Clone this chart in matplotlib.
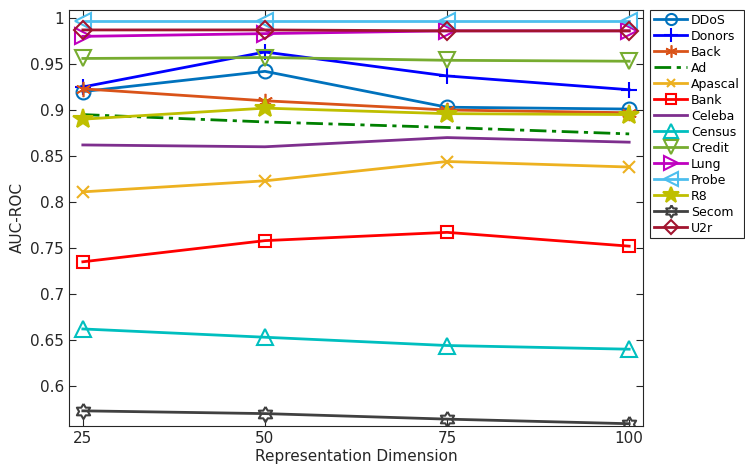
import numpy as np
import matplotlib
matplotlib.use("Agg")
import matplotlib.pyplot as plt

dims = [25, 50, 75, 100]

names = ["DDoS", "Donors", "Back", "Ad", "Apascal", "Bank", "Celeba", "Census",
         "Credit", "Lung", "Probe", "R8", "Secom", "U2r"]

ddos = [0.920, 0.942, 0.903, 0.901]
donors = [0.925, 0.963, 0.937, 0.922]
back = [0.923, 0.910, 0.900, 0.897]
ad = [0.895, 0.887, 0.881, 0.874]
apascal = [0.811, 0.823, 0.844, 0.838]
bank = [0.735, 0.758, 0.767, 0.752]
celeba = [0.862, 0.860, 0.870, 0.865]
census = [0.662, 0.653, 0.644, 0.640]
credit = [0.956, 0.957, 0.954, 0.953]
lung = [0.980, 0.983, 0.986, 0.986]
probe = [0.997, 0.997, 0.997, 0.997]
r8 = [0.890, 0.902, 0.896, 0.895]
secom = [0.573, 0.570, 0.564, 0.559]
u2r = [0.987, 0.987, 0.986, 0.986]

series = [ddos, donors, back, ad, apascal, bank, celeba, census,
          credit, lung, probe, r8, secom, u2r]

# hexagram marker (open six-pointed star)
ang = np.linspace(0, 2 * np.pi, 13)[:-1] + np.pi / 2
rad = np.where(np.arange(12) % 2 == 0, 1.0, 0.58)
hexagram = list(zip(rad * np.cos(ang), rad * np.sin(ang)))
hexagram.append(hexagram[0])

styles = [
    dict(color="#0072BD", marker="o", mfc="none", ms=10),
    dict(color="#0000FF", marker="+", ms=12, mew=1.5),
    dict(color="#D95319", marker=(6, 2, 0), ms=11, mew=1.2),
    dict(color="#008000", ls=(0, (6, 2, 1.5, 2)), marker=None),
    dict(color="#EDB120", marker="x", ms=8, mew=1.5),
    dict(color="#FF0000", marker="s", mfc="none", ms=9),
    dict(color="#7E2F8E", marker=None),
    dict(color="#00BFBF", marker="^", mfc="none", ms=12),
    dict(color="#77AC30", marker="v", mfc="none", ms=12),
    dict(color="#BF00BF", marker=">", mfc="none", ms=12),
    dict(color="#4DBEEE", marker="<", mfc="none", ms=12),
    dict(color="#BFBF00", marker="*", ms=15),
    dict(color="#404040", marker=hexagram, mfc="none", ms=11),
    dict(color="#A2142F", marker="D", mfc="none", ms=9),
]

fig = plt.figure(figsize=(7.45, 4.68), dpi=100)
ax = fig.add_axes([0.0926, 0.0897, 0.7705, 0.889])

for name, vals, st in zip(names, series, styles):
    st = dict(st)
    ax.plot(dims, vals, label=name, lw=2, mew=st.pop("mew", 1.5), **st)

ax.set_xlim(23.1, 101.9)
ax.set_ylim(0.5565, 1.0087)
ax.set_xticks(dims)
ax.set_yticks([0.6, 0.65, 0.7, 0.75, 0.8, 0.85, 0.9, 0.95, 1.0])
ax.set_yticklabels(["0.6", "0.65", "0.7", "0.75", "0.8", "0.85", "0.9", "0.95", "1"])
ax.tick_params(direction="in", top=True, right=True, labelsize=11,
               colors="#262626", length=5)
for sp in ax.spines.values():
    sp.set_color("#262626")
    sp.set_linewidth(0.8)

ax.set_xlabel("Representation Dimension", fontsize=11, color="#262626", labelpad=2)
ax.set_ylabel("AUC-ROC", fontsize=11, color="#262626")

leg = ax.legend(loc="upper left", bbox_to_anchor=(1.012, 1.0), fontsize=9,
                handlelength=2.7, borderaxespad=0, labelspacing=0.24,
                handletextpad=0.3, borderpad=0.3, fancybox=False,
                framealpha=1, markerscale=0.8)
leg.get_frame().set_edgecolor("#262626")
leg.get_frame().set_linewidth(0.8)

fig.savefig("out.png", dpi=100)
